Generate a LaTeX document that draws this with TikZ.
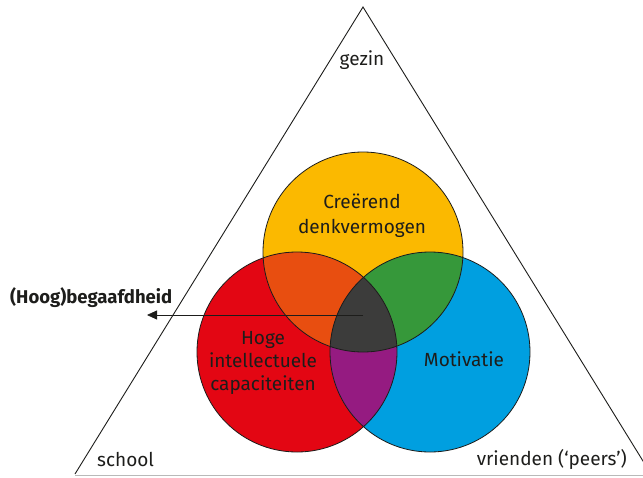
\documentclass[tikz,border=0pt]{standalone}
\usepackage{fontspec}
\setmainfont{Fira Sans}
\usetikzlibrary{arrows.meta}
\definecolor{cyellow}{HTML}{FBB900}
\definecolor{cred}{HTML}{E30613}
\definecolor{cblue}{HTML}{009FE0}
\definecolor{corange}{HTML}{E84E10}
\definecolor{cgreen}{HTML}{36983A}
\definecolor{cpurple}{HTML}{951B81}
\definecolor{cdark}{HTML}{3C3C3B}
\definecolor{ctext}{HTML}{1D1D1B}
\tikzset{
  lbl/.style={inner sep=0pt, text=ctext, font=\fontsize{19}{23}\selectfont},
  ring/.style={draw=ctext, line width=0.8pt},
  frame/.style={draw=ctext, line width=0.9pt}
}
\begin{document}
\begin{tikzpicture}[x=1pt,y=-1pt]
\clip (0,0) rectangle (643,477);
% outer triangle
\draw[frame] (75,474) -- (363,7) -- (651,474);
\draw[gray!55, line width=1pt] (75,475) -- (643,475);
% circle centres
\coordinate (Y) at (363,252);
\coordinate (R) at (297,352);
\coordinate (B) at (430,352);
% base discs
\fill[cyellow] (Y) circle (100pt);
\fill[cred] (R) circle (100pt);
\fill[cblue] (B) circle (100pt);
% pairwise overlaps
\begin{scope}\clip (Y) circle (100pt); \fill[corange] (R) circle (100pt);\end{scope}
\begin{scope}\clip (Y) circle (100pt); \fill[cgreen] (B) circle (100pt);\end{scope}
\begin{scope}\clip (R) circle (100pt); \fill[cpurple] (B) circle (100pt);\end{scope}
% common core
\begin{scope}\clip (Y) circle (100pt); \clip (R) circle (100pt); \fill[cdark] (B) circle (100pt);\end{scope}
% outlines
\draw[ring] (Y) circle (100pt);
\draw[ring] (R) circle (100pt);
\draw[ring] (B) circle (100pt);
% pointer from the core
\coordinate (core) at (363,315);
\coordinate (tip) at (147,315);
\draw[ctext, line width=0.8pt, -{Triangle[length=10pt,width=9pt]}] (core) -- (tip);
% labels
\node[lbl, anchor=base] (c1) at (362,208) {Creërend};
\node[lbl, anchor=base] (c2) at (362,233) {denkvermogen};
\node[lbl, anchor=base] (h1) at (263,344) {Hoge};
\node[lbl, anchor=base] (h2) at (263,367) {intellectuele};
\node[lbl, anchor=base] (h3) at (263,390) {capaciteiten};
\node[lbl, anchor=base] (mot) at (464,366) {Motivatie};
\node[lbl, anchor=base] (gez) at (362,65) {gezin};
\node[lbl, anchor=base west] (sch) at (97,466) {school};
\node[lbl, anchor=base east] (vri) at (627,465) {vrienden (‘peers’)};
\node[lbl, anchor=base west, font=\fontsize{18.5}{22}\selectfont\bfseries] (beg) at (10,303) {(Hoog)begaafdheid};
\end{tikzpicture}
\end{document}
